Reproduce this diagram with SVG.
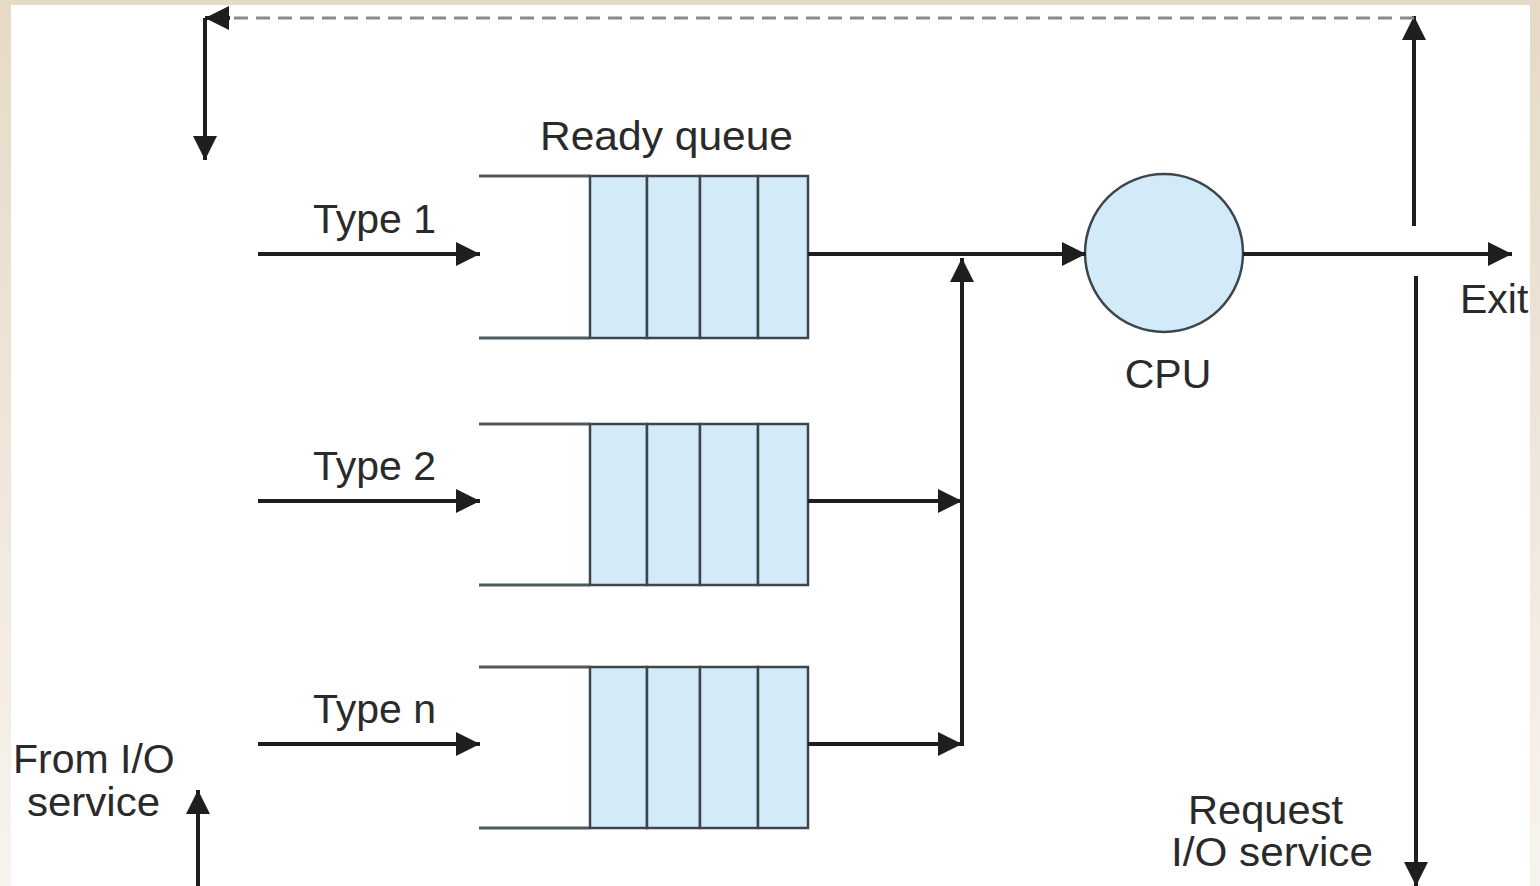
<svg xmlns="http://www.w3.org/2000/svg" width="1540" height="886" viewBox="0 0 1540 886">
<style>
text{font-family:"Liberation Sans",Arial,sans-serif;font-size:41px;fill:#2a2a2a}
.ln{stroke:#1e1e1e;stroke-width:4;fill:none}
.q{stroke:#505a60;stroke-width:3;fill:none}
.cell{fill:#d3ebf8;stroke:#3c464c;stroke-width:2.5}
</style>
<defs>
<linearGradient id="bg" x1="0" y1="0" x2="0" y2="1">
<stop offset="0" stop-color="#e6d9c6"/>
<stop offset="1" stop-color="#f7f3ee"/>
</linearGradient>
<marker id="ah" viewBox="0 0 10 10" refX="10" refY="5" markerWidth="6" markerHeight="6" markerUnits="strokeWidth" orient="auto">
<path d="M0,0L10,5L0,10z" fill="#1e1e1e"/>
</marker>
</defs>
<rect width="1540" height="886" fill="url(#bg)"/>
<rect x="11" y="5" width="1519" height="881" fill="#ffffff"/>

<g id="queue1">
<line class="q" x1="479" y1="176" x2="590" y2="176"/>
<line class="q" x1="479" y1="338" x2="590" y2="338"/>
<rect class="cell" x="590" y="176" width="57" height="162"/>
<rect class="cell" x="647" y="176" width="53" height="162"/>
<rect class="cell" x="700" y="176" width="58" height="162"/>
<rect class="cell" x="758" y="176" width="50" height="162"/>
<text x="540" y="150" textLength="253" lengthAdjust="spacingAndGlyphs">Ready queue</text>
</g>
<g id="queue2">
<line class="q" x1="479" y1="424" x2="590" y2="424"/>
<line class="q" x1="479" y1="585" x2="590" y2="585"/>
<rect class="cell" x="590" y="424" width="57" height="161"/>
<rect class="cell" x="647" y="424" width="53" height="161"/>
<rect class="cell" x="700" y="424" width="58" height="161"/>
<rect class="cell" x="758" y="424" width="50" height="161"/>
</g>
<g id="queue3">
<line class="q" x1="479" y1="667" x2="590" y2="667"/>
<line class="q" x1="479" y1="828" x2="590" y2="828"/>
<rect class="cell" x="590" y="667" width="57" height="161"/>
<rect class="cell" x="647" y="667" width="53" height="161"/>
<rect class="cell" x="700" y="667" width="58" height="161"/>
<rect class="cell" x="758" y="667" width="50" height="161"/>
</g>
<g id="cpu">
<circle cx="1164" cy="253" r="79" fill="#d3ebf8" stroke="#3c464c" stroke-width="2.5"/>
<text x="1168" y="388" text-anchor="middle">CPU</text>
</g>
<g id="labels">
<text x="313" y="233">Type 1</text>
<text x="313" y="480">Type 2</text>
<text x="313" y="723">Type n</text>
<text x="1460" y="313">Exit</text>
<text x="13" y="773">From I/O</text>
<text x="27" y="816" textLength="133" lengthAdjust="spacingAndGlyphs">service</text>
<text x="1188" y="824" textLength="155" lengthAdjust="spacingAndGlyphs">Request</text>
<text x="1171" y="866" textLength="202" lengthAdjust="spacingAndGlyphs">I/O service</text>
</g>
<g id="connectors">
<line class="ln" x1="258" y1="254" x2="480" y2="254" marker-end="url(#ah)"/>
<line class="ln" x1="258" y1="501" x2="480" y2="501" marker-end="url(#ah)"/>
<line class="ln" x1="258" y1="744" x2="480" y2="744" marker-end="url(#ah)"/>
<line class="ln" x1="808" y1="254" x2="1086" y2="254" marker-end="url(#ah)"/>
<line class="ln" x1="808" y1="501" x2="962" y2="501" marker-end="url(#ah)"/>
<line class="ln" x1="808" y1="744" x2="962" y2="744" marker-end="url(#ah)"/>
<line class="ln" x1="962" y1="746" x2="962" y2="258" marker-end="url(#ah)"/>
<line class="ln" x1="1243" y1="254" x2="1512" y2="254" marker-end="url(#ah)"/>
<line class="ln" x1="1414" y1="226" x2="1414" y2="16" marker-end="url(#ah)"/>
<line x1="1414" y1="18" x2="226" y2="18" stroke="#8a8a8a" stroke-width="3" stroke-dasharray="14,8"/>
<line class="ln" x1="230" y1="18" x2="205" y2="18" marker-end="url(#ah)"/>
<line class="ln" x1="205" y1="18" x2="205" y2="160" marker-end="url(#ah)"/>
<line class="ln" x1="1416" y1="276" x2="1416" y2="886" marker-end="url(#ah)"/>
<line class="ln" x1="198" y1="886" x2="198" y2="790" marker-end="url(#ah)"/>
</g>
</svg>
